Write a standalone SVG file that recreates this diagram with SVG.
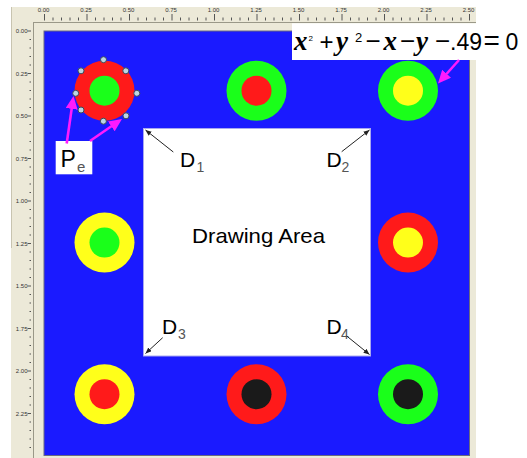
<svg xmlns="http://www.w3.org/2000/svg" width="527" height="458" viewBox="0 0 527 458">
<style>
.rl{font-family:"Liberation Sans",Arial,sans-serif;font-size:6px;fill:#333}
.tk{stroke:#555;stroke-width:1;fill:none}
.h{fill:#bcd6e4;stroke:#3c4a58;stroke-width:1}
.lbl{font-family:"Liberation Sans",Arial,sans-serif;fill:#000}
.sub{font-family:"Liberation Sans",Arial,sans-serif;fill:#555}
.var{font-family:"Liberation Serif","Times New Roman",serif;font-weight:bold;font-style:italic;fill:#000}
.op{font-family:"Liberation Sans",Arial,sans-serif;fill:#000}
.mag{stroke:#ff1aff;stroke-width:2.6;fill:none;marker-end:url(#mh)}
.blk{stroke:#222;stroke-width:1;fill:none;marker-end:url(#bh)}
</style>
<defs>
<marker id="mh" markerUnits="userSpaceOnUse" markerWidth="14" markerHeight="12" refX="1" refY="6" orient="auto">
<path d="M0,0 L13,6 L0,12 z" fill="#ff1aff"/>
</marker>
<marker id="bh" markerUnits="userSpaceOnUse" markerWidth="7" markerHeight="6" refX="6" refY="2.5" orient="auto">
<path d="M0,0 L6,2.5 L0,5 z" fill="#222"/>
</marker>
</defs>
<rect width="527" height="458" fill="#fff"/>
<g id="rulers">
<rect x="11" y="7" width="465" height="451" fill="#ECE9D8"/>
<line x1="11.5" y1="7" x2="11.5" y2="248" stroke="#c8c4b0"/>
<line x1="33" y1="22.5" x2="476" y2="22.5" stroke="#9a9888"/>
<line x1="33.5" y1="22" x2="33.5" y2="458" stroke="#9a9888"/>
<path class="tk" d="M44.5,14V20.5M87,14V20.5M129.5,14V20.5M172,14V20.5M214.5,14V20.5M257,14V20.5M299.5,14V20.5M342,14V20.5M384.5,14V20.5M427,14V20.5M469.5,14V20.5
M53,17.5V20.5M61.5,17.5V20.5M70,17.5V20.5M78.5,17.5V20.5M95.5,17.5V20.5M104,17.5V20.5M112.5,17.5V20.5M121,17.5V20.5M138,17.5V20.5M146.5,17.5V20.5M155,17.5V20.5M163.5,17.5V20.5M180.5,17.5V20.5M189,17.5V20.5M197.5,17.5V20.5M206,17.5V20.5M223,17.5V20.5M231.5,17.5V20.5M240,17.5V20.5M248.5,17.5V20.5M265.5,17.5V20.5M274,17.5V20.5M282.5,17.5V20.5M291,17.5V20.5M308,17.5V20.5M316.5,17.5V20.5M325,17.5V20.5M333.5,17.5V20.5M350.5,17.5V20.5M359,17.5V20.5M367.5,17.5V20.5M376,17.5V20.5M393,17.5V20.5M401.5,17.5V20.5M410,17.5V20.5M418.5,17.5V20.5M435.5,17.5V20.5M444,17.5V20.5M452.5,17.5V20.5M461,17.5V20.5"/>
<path class="tk" d="M27.5,31H31M27.5,73.5H31M27.5,116H31M27.5,158.5H31M27.5,201H31M27.5,243.5H31M27.5,286H31M27.5,328.5H31M27.5,371H31M27.5,413.5H31
M29.5,39.5H31M29.5,48H31M29.5,56.5H31M29.5,65H31M29.5,82H31M29.5,90.5H31M29.5,99H31M29.5,107.5H31M29.5,124.5H31M29.5,133H31M29.5,141.5H31M29.5,150H31M29.5,167H31M29.5,175.5H31M29.5,184H31M29.5,192.5H31M29.5,209.5H31M29.5,218H31M29.5,226.5H31M29.5,235H31M29.5,252H31M29.5,260.5H31M29.5,269H31M29.5,277.5H31M29.5,294.5H31M29.5,303H31M29.5,311.5H31M29.5,320H31M29.5,337H31M29.5,345.5H31M29.5,354H31M29.5,362.5H31M29.5,379.5H31M29.5,388H31M29.5,396.5H31M29.5,405H31M29.5,422H31M29.5,430.5H31M29.5,439H31M29.5,447.5H31"/>
<g class="rl" text-anchor="middle">
<text x="43.5" y="12">0.00</text><text x="86" y="12">0.25</text><text x="128.5" y="12">0.50</text><text x="171" y="12">0.75</text><text x="213.5" y="12">1.00</text><text x="256" y="12">1.25</text><text x="298.5" y="12">1.50</text><text x="341" y="12">1.75</text><text x="383.5" y="12">2.00</text><text x="426" y="12">2.25</text><text x="468.5" y="12">2.50</text>
</g>
<g class="rl" text-anchor="end">
<text x="27.5" y="33">0.00</text><text x="27.5" y="75.5">0.25</text><text x="27.5" y="118">0.50</text><text x="27.5" y="160.5">0.75</text><text x="27.5" y="203">1.00</text><text x="27.5" y="245.5">1.25</text><text x="27.5" y="288">1.50</text><text x="27.5" y="330.5">1.75</text><text x="27.5" y="373">2.00</text><text x="27.5" y="415.5">2.25</text>
</g>
</g>
<g id="canvas">
<rect x="44" y="31" width="425.5" height="424.5" fill="#1A1AFF" stroke="#6a6a80" stroke-width="1"/>
</g>
<g id="drawing-area">
<rect x="143.5" y="128.5" width="227" height="227.5" fill="#fff" stroke="#a8a8f0" stroke-width="1"/>
<text class="lbl" x="192" y="243.3" font-size="21" textLength="133" lengthAdjust="spacingAndGlyphs">Drawing Area</text>
</g>
<g id="c1">
<circle cx="104.5" cy="90.7" r="30" fill="#FF1A1A"/>
<circle cx="104.5" cy="90.7" r="15" fill="#1AFF1A"/>
<circle class="h" cx="103.5" cy="59.7" r="3"/>
<circle class="h" cx="125.8" cy="70.8" r="3"/>
<circle class="h" cx="136.8" cy="93.3" r="3"/>
<circle class="h" cx="126" cy="115.8" r="3"/>
<circle class="h" cx="103.4" cy="121.2" r="3"/>
<circle class="h" cx="81" cy="110" r="3"/>
<circle class="h" cx="75.7" cy="93.3" r="3"/>
<circle class="h" cx="81" cy="70.8" r="3"/>
</g>
<g id="c2">
<circle cx="256.5" cy="90.7" r="30" fill="#1AFF1A"/>
<circle cx="256.5" cy="90.7" r="15" fill="#FF1A1A"/>
</g>
<g id="c3">
<circle cx="408" cy="90.7" r="30" fill="#1AFF1A"/>
<circle cx="408" cy="90.7" r="15" fill="#FFFF1A"/>
</g>
<g id="c4">
<circle cx="104.5" cy="242.6" r="30" fill="#FFFF1A"/>
<circle cx="104.5" cy="242.6" r="15" fill="#1AFF1A"/>
</g>
<g id="c5">
<circle cx="408" cy="242.6" r="30" fill="#FF1A1A"/>
<circle cx="408" cy="242.6" r="15" fill="#FFFF1A"/>
</g>
<g id="c6">
<circle cx="104.5" cy="394.2" r="30" fill="#FFFF1A"/>
<circle cx="104.5" cy="394.2" r="15" fill="#FF1A1A"/>
</g>
<g id="c7">
<circle cx="256.5" cy="394.2" r="30" fill="#FF1A1A"/>
<circle cx="256.5" cy="394.2" r="15" fill="#1A1A1A"/>
</g>
<g id="c8">
<circle cx="408" cy="394.2" r="30" fill="#1AFF1A"/>
<circle cx="408" cy="394.2" r="15" fill="#1A1A1A"/>
</g>
<g id="pe-label">
<rect x="55.7" y="141" width="36.6" height="33.3" fill="#fff"/>
<text class="lbl" x="60.5" y="166.7" font-size="23">P</text>
<text class="sub" x="77" y="172" font-size="15">e</text>
</g>
<g id="equation">
<rect x="292" y="23.3" width="235" height="36.7" fill="#fff"/>
<text class="var" x="294" y="50" font-size="27">x</text>
<text class="op" x="308.5" y="41" font-size="8">2</text>
<text class="op" x="319.5" y="50" font-size="24">+</text>
<text class="var" x="336" y="50" font-size="27">y</text>
<text class="op" x="355" y="42" font-size="13">2</text>
<text class="op" x="365.5" y="50" font-size="26">−</text>
<text class="var" x="383.5" y="50" font-size="27">x</text>
<text class="op" x="400" y="50" font-size="26">−</text>
<text class="var" x="416" y="50" font-size="27">y</text>
<text class="op" x="435" y="50" font-size="26">−</text>
<text class="op" x="450" y="50" font-size="23">.49</text>
<text class="op" x="483.5" y="50" font-size="28">=</text>
<text class="op" x="505.5" y="50" font-size="23">0</text>
</g>
<g id="d-labels">
<text class="lbl" x="180" y="166.7" font-size="21">D</text><text class="sub" x="196.5" y="171.5" font-size="14">1</text>
<text class="lbl" x="326.5" y="166.7" font-size="21">D</text><text class="sub" x="341.5" y="171.5" font-size="14">2</text>
<text class="lbl" x="162" y="334.3" font-size="21">D</text><text class="sub" x="178" y="339.3" font-size="14">3</text>
<text class="lbl" x="326.5" y="334.3" font-size="21">D</text><text class="sub" x="341" y="339.3" font-size="14">4</text>
</g>
<g id="connectors">
<line class="mag" x1="66.7" y1="143.5" x2="71.8" y2="107.9"/>
<line class="mag" x1="90" y1="141" x2="112.1" y2="125.8"/>
<line class="mag" x1="459" y1="60" x2="446" y2="74.5"/>
<line class="blk" x1="173.3" y1="152" x2="145.5" y2="130"/>
<line class="blk" x1="341.7" y1="151.7" x2="369.5" y2="130"/>
<line class="blk" x1="162.7" y1="337.7" x2="145.5" y2="353.5"/>
<line class="blk" x1="346.7" y1="336" x2="369.5" y2="354.5"/>
</g>
</svg>
